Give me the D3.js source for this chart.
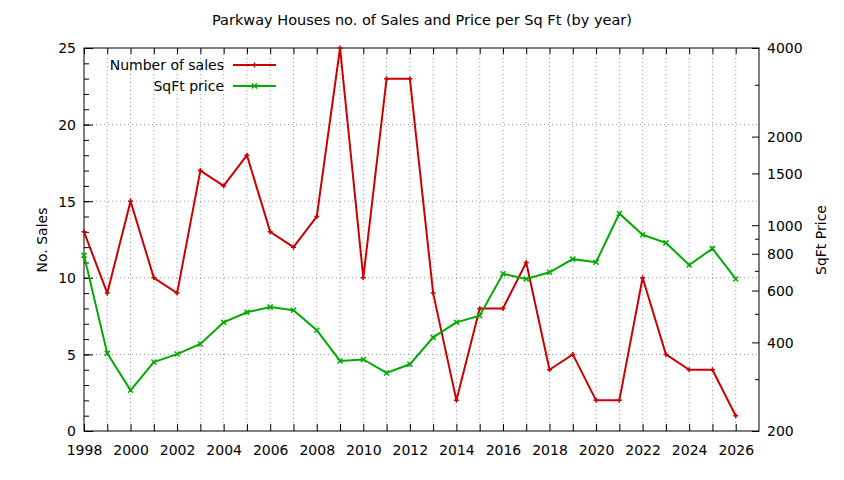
<!DOCTYPE html>
<html>
<head>
<meta charset="utf-8">
<script src="https://cdn.jsdelivr.net/npm/d3@7"></script>
<style>
  body { margin: 0; background: #fff; }
  text { font-family: "DejaVu Sans", sans-serif; fill: #000; }
  .grid { stroke: #999; stroke-width: 1; stroke-dasharray: 1,3; }
</style>
</head>
<body>
<div id="chart"></div>
<script>
const width = 844;
const height = 480;
const marginTop = 48;
const marginRight = 85;
const marginBottom = 49;
const marginLeft = 84;

const years = [1998, 1999, 2000, 2001, 2002, 2003, 2004, 2005, 2006, 2007,
    2008, 2009, 2010, 2011, 2012, 2013, 2014, 2015, 2016, 2017,
    2018, 2019, 2020, 2021, 2022, 2023, 2024, 2025, 2026];
const sales = [13, 9, 15, 10, 9, 17, 16, 18, 13, 12,
    14, 25, 10, 23, 23, 9, 2, 8, 8, 11,
    4, 5, 2, 2, 10, 5, 4, 4, 1];
const sqftPrice = [790, 367, 275, 343, 365, 395, 468, 506, 527, 514,
    440, 346, 350, 315, 337, 416, 468, 493, 684, 657,
    692, 767, 749, 1096, 928, 871, 733, 833, 657];

const xLabelTicks = d3.range(1998, 2027, 2);
const yTicks = [0, 5, 10, 15, 20, 25];
const y2Labels = [200, 400, 600, 800, 1000, 1500, 2000, 4000];
const y2Minor = [300, 500, 700, 900, 3000];

const xScale = d3.scaleLinear()
    .domain([1998, 2027])
    .range([marginLeft, width - marginRight]);

const yScale = d3.scaleLinear()
    .domain([0, 25])
    .range([height - marginBottom, marginTop]);

const y2Scale = d3.scaleLog()
    .domain([200, 4000])
    .range([height - marginBottom, marginTop]);

const svg = d3.create("svg")
    .attr("width", width)
    .attr("height", height);

const x0 = marginLeft, x1 = width - marginRight;
const y0 = height - marginBottom, y1 = marginTop;

// grid
svg.append("g")
    .selectAll("line")
    .data(years.slice(1))
    .join("line")
    .attr("class", "grid")
    .attr("x1", d => xScale(d)).attr("x2", d => xScale(d))
    .attr("y1", y0).attr("y2", y1);

svg.append("g")
    .selectAll("line")
    .data([5, 10, 15, 20])
    .join("line")
    .attr("class", "grid")
    .attr("x1", x0).attr("x2", x1)
    .attr("y1", d => yScale(d)).attr("y2", d => yScale(d));

// bottom axis, ticks inward every year
const xAxis = d3.axisBottom(xScale)
    .tickValues(years)
    .tickSize(-7)
    .tickFormat(d => xLabelTicks.includes(d) ? d : "");
svg.append("g")
    .attr("transform", `translate(0,${y0})`)
    .call(xAxis)
    .call(g => g.select(".domain").remove())
    .call(g => g.selectAll("text").attr("dy", "0").attr("y", 24).style("font-size", "14px").style("font-family", "DejaVu Sans"));

// top mirror ticks
svg.append("g")
    .attr("transform", `translate(0,${y1})`)
    .call(d3.axisTop(xScale).tickValues(years).tickSize(-6).tickFormat(""))
    .call(g => g.select(".domain").remove());

// left axis
svg.append("g")
    .attr("transform", `translate(${x0},0)`)
    .call(d3.axisLeft(yScale).tickValues(d3.range(0, 26)).tickSize(-5).tickFormat(""))
    .call(g => g.select(".domain").remove());
svg.append("g")
    .attr("transform", `translate(${x0},0)`)
    .call(d3.axisLeft(yScale).tickValues(yTicks).tickSize(-9))
    .call(g => g.select(".domain").remove())
    .call(g => g.selectAll("text").attr("x", -8).attr("dy", "0.35em").style("font-size", "14px").style("font-family", "DejaVu Sans"));

// right axis (log)
svg.append("g")
    .attr("transform", `translate(${x1},0)`)
    .call(d3.axisRight(y2Scale).tickValues(y2Minor).tickSize(-4).tickFormat(""))
    .call(g => g.select(".domain").remove());
svg.append("g")
    .attr("transform", `translate(${x1},0)`)
    .call(d3.axisRight(y2Scale).tickValues(y2Labels).tickSize(-7).tickFormat(d3.format("d")))
    .call(g => g.select(".domain").remove())
    .call(g => g.selectAll("text").attr("x", 8).attr("dy", "0.35em").style("font-size", "14px").style("font-family", "DejaVu Sans"));

// border
svg.append("rect")
    .attr("x", x0).attr("y", y1)
    .attr("width", x1 - x0).attr("height", y0 - y1)
    .attr("fill", "none").attr("stroke", "#000").attr("stroke-width", 1);

// title and axis labels
svg.append("text")
    .attr("x", 422).attr("y", 25)
    .attr("text-anchor", "middle")
    .style("font-size", "14.5px")
    .text("Parkway Houses no. of Sales and Price per Sq Ft (by year)");

svg.append("text")
    .attr("transform", `translate(47,240) rotate(-90)`)
    .attr("text-anchor", "middle")
    .style("font-size", "14px")
    .text("No. Sales");

svg.append("text")
    .attr("transform", `translate(826,240) rotate(-90)`)
    .attr("text-anchor", "middle")
    .style("font-size", "14px")
    .text("SqFt Price");

const salesColor = "#cc0000";
const priceColor = "#00aa00";

const salesData = years.map((y, i) => ({ year: y, value: sales[i] }));
const priceData = years.map((y, i) => ({ year: y, value: sqftPrice[i] }));

const salesLine = d3.line()
    .x(d => xScale(d.year))
    .y(d => yScale(d.value));
const priceLine = d3.line()
    .x(d => xScale(d.year))
    .y(d => y2Scale(d.value));

function plusMark(g, cx, cy, color) {
    g.append("path")
        .attr("d", `M${cx - 2.5},${cy}H${cx + 2.5}M${cx},${cy - 2.5}V${cy + 2.5}`)
        .attr("stroke", color).attr("stroke-width", 1.5);
}
function crossMark(g, cx, cy, color) {
    g.append("path")
        .attr("d", `M${cx - 2.5},${cy - 2.5}L${cx + 2.5},${cy + 2.5}M${cx - 2.5},${cy + 2.5}L${cx + 2.5},${cy - 2.5}`)
        .attr("stroke", color).attr("stroke-width", 1.5);
}

svg.append("path")
    .datum(salesData)
    .attr("fill", "none")
    .attr("stroke", salesColor)
    .attr("stroke-width", 2)
    .attr("d", salesLine);
const salesMarks = svg.append("g");
salesData.forEach(d => plusMark(salesMarks, xScale(d.year), yScale(d.value), salesColor));

svg.append("path")
    .datum(priceData)
    .attr("fill", "none")
    .attr("stroke", priceColor)
    .attr("stroke-width", 2)
    .attr("d", priceLine);
const priceMarks = svg.append("g");
priceData.forEach(d => crossMark(priceMarks, xScale(d.year), y2Scale(d.value), priceColor));

// legend
const legend = [
    { label: "Number of sales", color: salesColor, mark: plusMark, y: 65 },
    { label: "SqFt price", color: priceColor, mark: crossMark, y: 86 }
];
legend.forEach(item => {
    svg.append("text")
        .attr("x", 224).attr("y", item.y)
        .attr("dy", "0.35em")
        .attr("text-anchor", "end")
        .style("font-size", "14px")
        .text(item.label);
    svg.append("line")
        .attr("x1", 233).attr("x2", 276)
        .attr("y1", item.y).attr("y2", item.y)
        .attr("stroke", item.color).attr("stroke-width", 2);
    item.mark(svg, 254.5, item.y, item.color);
});

d3.select("#chart").append(() => svg.node());
</script>
</body>
</html>
